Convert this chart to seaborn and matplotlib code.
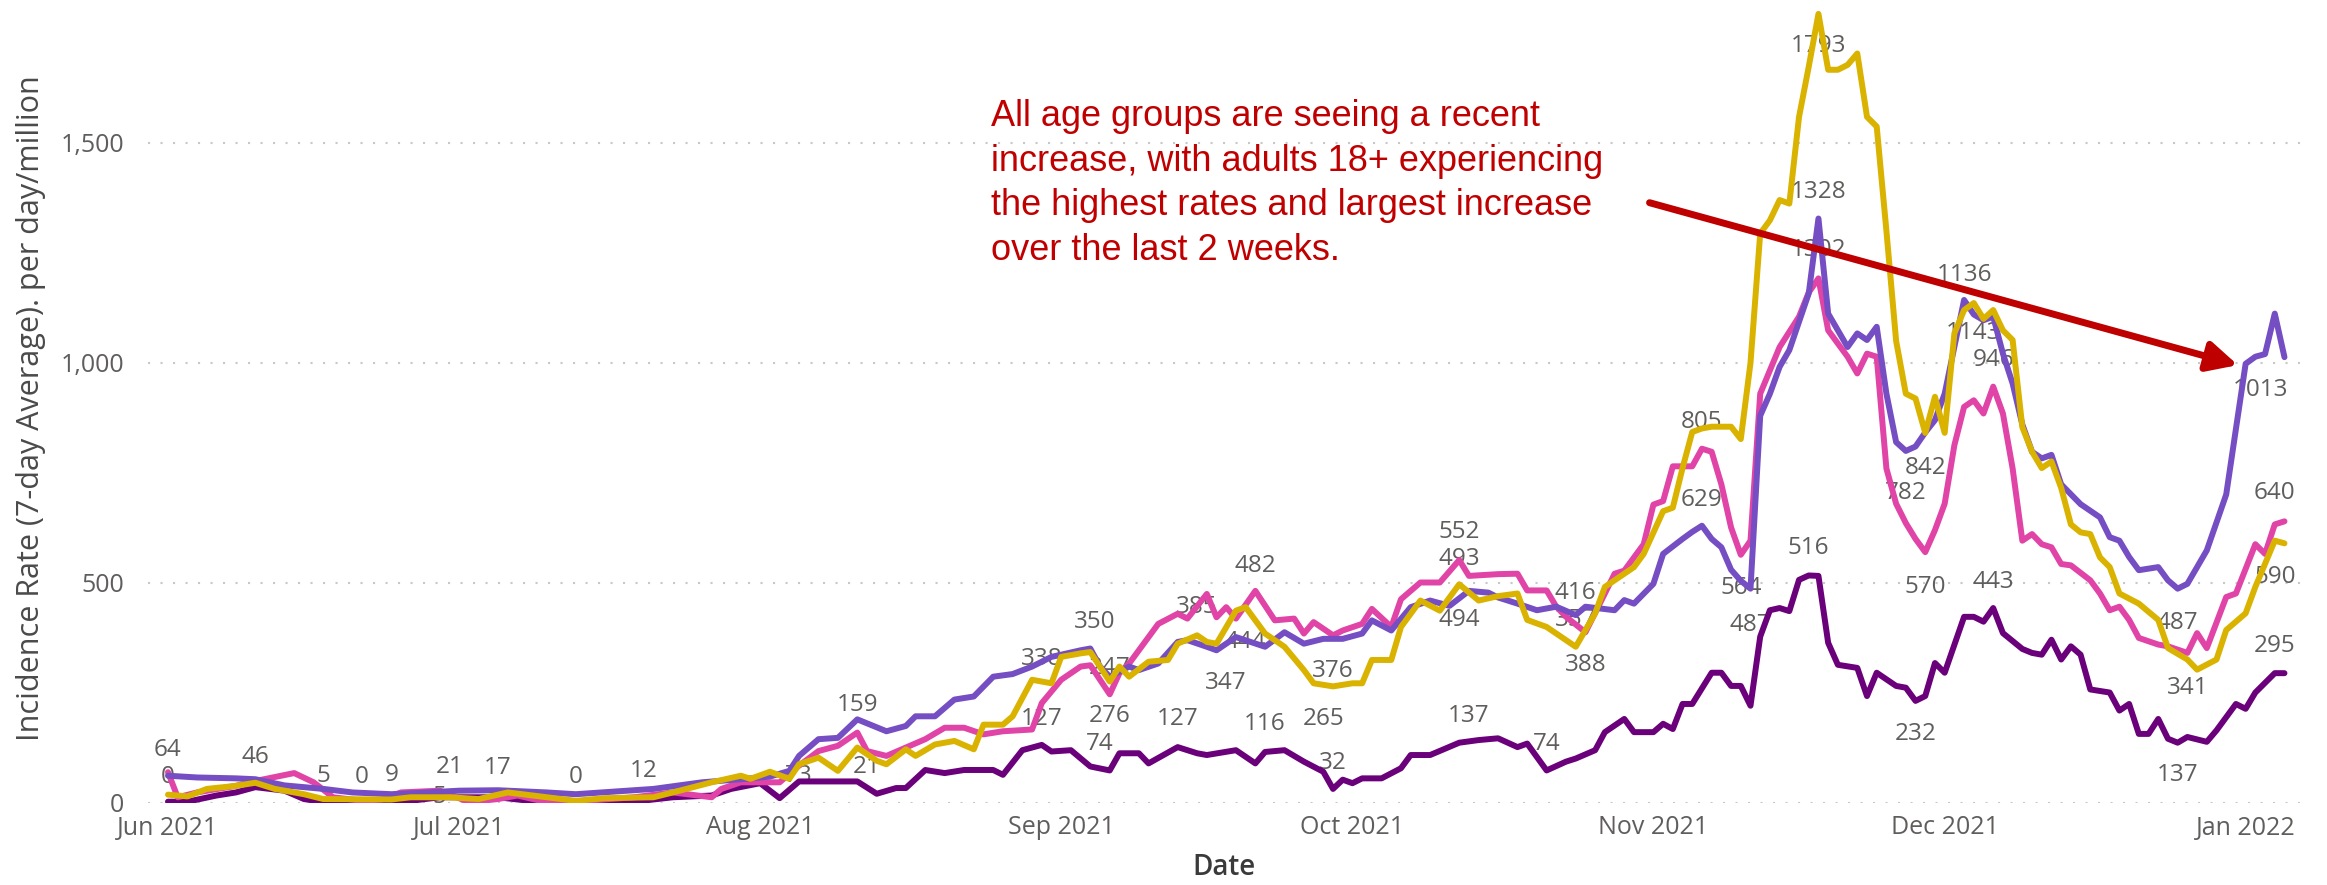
import pandas as pd
import matplotlib
matplotlib.use("Agg")
import matplotlib.pyplot as plt
import matplotlib.dates as mdates
from matplotlib.patches import FancyArrowPatch
from matplotlib.ticker import FixedLocator, FuncFormatter
import seaborn as sns

# ---------------- data ----------------
START_DATE = "2021-06-01"

groups = ["Ages 0-4", "Ages 12-17", "Ages 18+", "Ages 5-11"]
colors = ["#6B007B", "#E044A7", "#744EC2", "#D9B300"]

# days since START_DATE and 7-day average incidence per million
violet_days = [0, 3, 7, 9, 12, 16, 19, 23, 25, 30,
               34, 39, 42, 46, 50, 55, 59, 62, 64, 65,
               67, 69, 71, 73, 74, 76, 77, 79, 81, 83,
               85, 87, 89, 91, 94, 95, 96, 97, 99, 100,
               102, 104, 105, 107, 108, 110, 113, 115, 117, 119,
               121, 123, 124, 126, 128, 130, 132, 134, 136, 137,
               139, 141, 143, 145, 146, 149, 150, 151, 153, 154,
               156, 157, 158, 159, 160, 161, 162, 163, 164, 165,
               166, 167, 169, 170, 171, 173, 174, 175, 176, 177,
               178, 179, 180, 181, 182, 183, 185, 186, 187, 188,
               189, 190, 191, 192, 193, 194, 195, 197, 199, 200,
               201, 202, 203, 205, 206, 207, 208, 210, 212, 213,
               214, 215, 216, 217, 218]
violet_vals = [62, 58, 56, 54, 40, 32, 24, 20, 22, 28,
               29, 24, 20, 26, 32, 47, 54, 60, 73, 107,
               145, 148, 190, 172, 163, 175, 197, 197, 235, 242,
               287, 293, 310, 332, 347, 351, 310, 287, 310, 302,
               317, 366, 370, 355, 347, 377, 355, 388, 362, 373,
               373, 385, 415, 392, 445, 460, 448, 482, 478, 467,
               453, 438, 446, 427, 446, 438, 461, 453, 498, 566,
               600, 616, 630, 600, 581, 530, 505, 487, 880, 930,
               991, 1029, 1158, 1328, 1112, 1036, 1067, 1052, 1082, 930,
               820, 800, 810, 842, 870, 930, 1143, 1110, 1097, 1105,
               1021, 953, 860, 798, 783, 791, 724, 679, 649, 604,
               596, 559, 529, 536, 506, 487, 498, 574, 701, 850,
               998, 1014, 1020, 1112, 1013]

pink_days = [0, 1, 3, 7, 9, 13, 15, 17, 20, 22,
             24, 28, 31, 34, 36, 39, 43, 48, 52, 56,
             57, 59, 63, 65, 67, 69, 71, 72, 74, 76,
             78, 80, 82, 84, 86, 89, 90, 92, 94, 95,
             97, 98, 99, 101, 102, 104, 105, 107, 108, 109,
             110, 112, 114, 116, 117, 118, 120, 121, 123, 124,
             126, 127, 129, 131, 133, 134, 137, 139, 140, 142,
             143, 144, 146, 148, 149, 150, 152, 153, 154, 155,
             157, 158, 159, 160, 161, 162, 163, 164, 165, 166,
             168, 169, 170, 171, 173, 174, 175, 176, 177, 178,
             179, 180, 181, 182, 183, 184, 185, 186, 187, 188,
             189, 190, 191, 192, 193, 194, 195, 196, 198, 199,
             200, 201, 202, 203, 205, 206, 208, 209, 210, 212,
             213, 215, 216, 217, 218]
pink_vals = [70, 13, 24, 39, 50, 68, 47, 13, 5, 8,
             24, 28, 2, 9, 17, 2, 5, 13, 24, 13,
             32, 47, 47, 85, 118, 130, 160, 118, 107, 126,
             145, 171, 171, 156, 163, 167, 227, 280, 310, 313,
             247, 295, 317, 377, 407, 430, 419, 475, 422, 445,
             419, 482, 415, 419, 385, 411, 381, 392, 407, 441,
             400, 463, 501, 501, 552, 516, 520, 521, 483, 483,
             446, 423, 388, 476, 521, 528, 588, 678, 686, 765,
             765, 805, 798, 724, 626, 564, 596, 930, 983, 1036,
             1105, 1160, 1192, 1074, 1014, 976, 1021, 1014, 760, 680,
             636, 600, 570, 620, 680, 813, 900, 915, 885, 946,
             885, 760, 596, 611, 588, 581, 543, 540, 506, 476,
             438, 446, 416, 375, 360, 356, 341, 386, 352, 468,
             476, 588, 566, 633, 640]

gold_days = [0, 2, 4, 7, 9, 11, 14, 16, 23, 25,
             29, 32, 35, 39, 42, 45, 50, 52, 56, 59,
             60, 62, 64, 65, 67, 69, 71, 73, 74, 76,
             77, 79, 81, 83, 84, 86, 87, 89, 91, 92,
             94, 95, 97, 98, 99, 101, 103, 104, 106, 107,
             108, 110, 111, 113, 115, 117, 118, 120, 122, 123,
             124, 126, 127, 129, 131, 133, 135, 137, 139, 140,
             142, 145, 147, 148, 150, 151, 152, 154, 155, 156,
             157, 158, 159, 161, 162, 163, 164, 165, 166, 167,
             168, 169, 170, 171, 172, 173, 174, 175, 176, 177,
             178, 179, 180, 181, 182, 183, 184, 185, 186, 187,
             188, 189, 190, 191, 192, 193, 194, 195, 196, 197,
             198, 199, 200, 201, 203, 205, 206, 208, 209, 211,
             212, 214, 215, 217, 218]
gold_vals = [19, 15, 32, 39, 46, 32, 20, 9, 8, 13,
             13, 9, 24, 13, 5, 11, 13, 24, 47, 62,
             55, 71, 55, 88, 103, 73, 126, 96, 88, 122,
             107, 133, 141, 122, 178, 178, 197, 280, 272, 332,
             340, 343, 276, 310, 287, 321, 325, 362, 381, 366,
             362, 437, 445, 385, 355, 302, 272, 265, 272, 272,
             325, 325, 400, 460, 437, 497, 460, 470, 476, 416,
             400, 355, 431, 491, 521, 536, 566, 663, 671, 761,
             843, 851, 855, 855, 827, 1000, 1294, 1324, 1370, 1362,
             1559, 1673, 1793, 1666, 1666, 1677, 1703, 1559, 1537, 1300,
             1050, 930, 919, 841, 923, 841, 1067, 1120, 1136, 1100,
             1120, 1074, 1052, 854, 798, 761, 776, 716, 633, 615,
             611, 558, 536, 476, 453, 416, 352, 326, 303, 326,
             393, 431, 491, 596, 590]

dark_days = [0, 2, 5, 7, 9, 12, 14, 16, 22, 25,
             28, 34, 38, 42, 48, 52, 56, 58, 61, 63,
             65, 71, 73, 75, 76, 78, 80, 82, 85, 86,
             88, 90, 91, 93, 95, 97, 98, 100, 101, 104,
             106, 107, 110, 112, 113, 115, 117, 119, 120, 121,
             122, 123, 125, 127, 128, 130, 133, 135, 137, 139,
             140, 142, 144, 145, 147, 148, 150, 151, 153, 154,
             155, 156, 157, 159, 160, 161, 162, 163, 164, 165,
             166, 167, 168, 169, 170, 171, 172, 174, 175, 176,
             177, 178, 179, 180, 181, 182, 183, 185, 186, 187,
             188, 189, 191, 192, 193, 194, 195, 196, 197, 198,
             200, 201, 202, 203, 204, 205, 206, 207, 208, 210,
             211, 213, 214, 215, 217, 218]
dark_vals = [3, 3, 17, 24, 36, 28, 9, 2, 0, 5,
             13, 13, 3, 2, 3, 13, 17, 32, 45, 11,
             49, 49, 21, 34, 34, 75, 68, 75, 75, 64,
             120, 132, 117, 120, 83, 74, 113, 113, 90, 127,
             113, 109, 120, 90, 116, 120, 94, 71, 32, 53,
             45, 56, 56, 79, 109, 109, 137, 143, 147, 127,
             135, 74, 94, 101, 120, 161, 191, 161, 161, 180,
             168, 225, 225, 296, 296, 266, 266, 221, 378, 438,
             443, 436, 507, 517, 516, 364, 314, 307, 243, 296,
             281, 266, 262, 232, 243, 318, 296, 423, 423, 412,
             443, 386, 350, 341, 337, 371, 326, 356, 337, 258,
             251, 210, 225, 157, 157, 191, 146, 137, 150, 139,
             165, 225, 214, 251, 295, 295]

# data labels shown on the chart (day, text, vertical anchor value)
label_days = [0, 0, 9, 16, 20, 23, 29, 28, 34, 42, 49,
              65, 71, 72, 90, 95.5, 97, 90, 97, 96, 106, 104, 109, 112, 111, 113,
              120, 119, 120, 133, 133, 133, 134,
              142, 145, 145, 146, 158, 158, 162, 163, 169, 170, 170, 170, 179, 180,
              181, 181, 185, 186, 188, 188,
              207, 208, 207, 215.5, 217, 217, 217]
label_texts = ["64", "0", "46", "5", "0", "9", "21", "5", "17", "0", "12",
               "73", "159", "21", "338", "350", "247", "127", "276", "74", "385", "127",
               "347", "482", "444", "116", "376", "265", "32", "552", "493", "494", "137",
               "74", "416", "357", "388", "805", "629", "564", "487", "516", "1793", "1328",
               "1302", "782", "232", "842", "570", "1136", "1143", "946", "443",
               "487", "341", "137", "1013", "640", "590", "295"]
label_anchor = [121, 58, 104, 61, 58, 64, 81, 13, 79, 58, 73,
                62, 222, 81, 328, 411, 306, 190, 197, 134, 445, 190,
                272, 539, 366, 179, 299, 190, 92, 616, 554, 415, 197,
                135, 477, 416, 314, 866, 689, 489, 405, 580, 1719, 1389,
                1256, 704, 157, 761, 491, 1199, 1067, 1006, 502,
                409, 262, 64, 938, 704, 513, 356]

y_ticks = [0, 500, 1000, 1500]
month_ticks = ["2021-06-01", "2021-07-01", "2021-08-01", "2021-09-01",
               "2021-10-01", "2021-11-01", "2021-12-01", "2022-01-01"]
month_labels = ["Jun 2021", "Jul 2021", "Aug 2021", "Sep 2021",
                "Oct 2021", "Nov 2021", "Dec 2021", "Jan 2022"]

y_title = "Incidence Rate (7-day Average). per day/million"
x_title = "Date"
note_text = ("All age groups are seeing a recent\n"
             "increase, with adults 18+ experiencing\n"
             "the highest rates and largest increase\n"
             "over the last 2 weeks.")

# ---------------- build table ----------------
base = pd.Timestamp(START_DATE)
frames = []
for name, days, vals in [("Ages 0-4", dark_days, dark_vals),
                         ("Ages 12-17", pink_days, pink_vals),
                         ("Ages 18+", violet_days, violet_vals),
                         ("Ages 5-11", gold_days, gold_vals)]:
    frames.append(pd.DataFrame({
        "Date": base + pd.to_timedelta(days, unit="D"),
        "Rate": vals,
        "Group": name,
    }))
df = pd.concat(frames, ignore_index=True)

# ---------------- style ----------------
sns.set_theme(style="white")
plt.rcParams["font.family"] = ["Open Sans", "DejaVu Sans"]

W, H = 2327, 885
fig = plt.figure(figsize=(W / 100, H / 100), dpi=100)
ax = fig.add_axes([148 / W, 82 / H, 2152 / W, 801 / H])

sns.lineplot(data=df, x="Date", y="Rate", hue="Group", hue_order=groups,
             palette=dict(zip(groups, colors)), estimator=None,
             linewidth=4.3, legend=False, ax=ax, zorder=2)

# data labels
for d, t, v in zip(label_days, label_texts, label_anchor):
    ax.text(base + pd.Timedelta(days=d), v, t, ha="center", va="center",
            fontsize=17.5, color="#605E5C", zorder=1)

# axes
ax.set_xlim(base - pd.Timedelta(days=2.06), base + pd.Timedelta(days=219.6))
ax.set_ylim(0, 1820)
ax.yaxis.set_major_locator(FixedLocator(y_ticks))
ax.yaxis.set_major_formatter(FuncFormatter(lambda v, p: f"{v:,.0f}"))
ax.set_xticks(pd.to_datetime(month_ticks))
ax.set_xticklabels(month_labels)
ax.tick_params(axis="both", length=0, labelsize=18, labelcolor="#605E5C")
ax.tick_params(axis="x", pad=9)
ax.tick_params(axis="y", pad=17)
ax.grid(False)
ax.yaxis.grid(True, color="#C8C8C8", linewidth=1.5, linestyle=(0, (1, 5)))
ax.set_axisbelow(True)
for s in ax.spines.values():
    s.set_visible(False)
ax.set_xlabel("")
ax.set_ylabel("")

fig.text(31 / W, 0.539, y_title, rotation=90, ha="center", va="center",
         fontsize=22, color="#4A4A4A")
fig.text(1224 / W, 0.02, x_title, ha="center", va="center",
         fontsize=20, color="#3A3A3A", fontweight="semibold")

# annotation
fig.text(991 / W, 1 - 99 / H, note_text, ha="left", va="top",
         fontsize=26, color="#C00000", family="Liberation Sans",
         linespacing=1.36)

arrow = FancyArrowPatch(
    (mdates.date2num(base + pd.Timedelta(days=152.6)), 1364),
    (mdates.date2num(base + pd.Timedelta(days=213.2)), 995),
    arrowstyle="-|>,head_length=0.6,head_width=0.3", mutation_scale=30,
    color="#BE0000", linewidth=5, shrinkA=0, shrinkB=0, zorder=5)
ax.add_patch(arrow)

fig.savefig("out.png", dpi=100)
